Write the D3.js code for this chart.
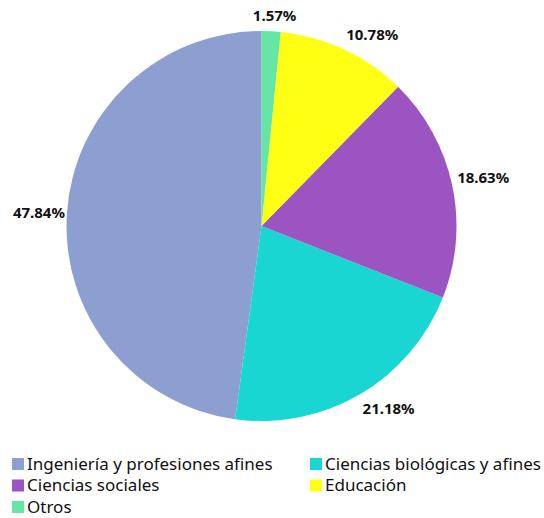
<!DOCTYPE html>
<html>
<head>
<meta charset="utf-8">
<script src="https://cdn.jsdelivr.net/npm/d3@7"></script>
<style>
  html, body { margin: 0; padding: 0; background: #fff; }
  svg { display: block; font-family: "Noto Sans", "Open Sans", sans-serif; }
</style>
</head>
<body>
<svg id="chart" width="544" height="518"></svg>
<script>
// Áreas de estudio (porcentaje)
const categories = [
  "Ingeniería y profesiones afines",
  "Ciencias biológicas y afines",
  "Ciencias sociales",
  "Educación",
  "Otros"
];
const values = [47.84, 21.18, 18.63, 10.78, 1.57];
const colors = ["#8c9fd0", "#19d6d3", "#9b54c0", "#ffff14", "#66e6a6"];

const data = categories.map((c, i) => ({ name: c, value: values[i], color: colors[i] }));

const svg = d3.select("#chart");
const cx = 261.5, cy = 226, radius = 195;

const g = svg.append("g").attr("transform", `translate(${cx},${cy})`);

// Slices run counter-clockwise from 12 o'clock
const pie = d3.pie().value(d => d.value).sort(null).startAngle(0).endAngle(-2 * Math.PI);
const arcs = pie(data);
const arc = d3.arc().innerRadius(0).outerRadius(radius);

g.selectAll("path.slice")
  .data(arcs)
  .join("path")
  .attr("class", "slice")
  .attr("d", arc)
  .attr("fill", d => d.data.color);

// Percentage labels outside the rim
const labelR = 200;
g.selectAll("text.pct")
  .data(arcs)
  .join("text")
  .attr("class", "pct")
  .each(function (d) {
    const a = (d.startAngle + d.endAngle) / 2;
    const s = Math.sin(a), c = Math.cos(a);
    let x = labelR * s + (s < 0 ? 3 : 0);
    let y = -(labelR + 5) * c;
    if (c > 0.15) y -= 6; else if (c < -0.15) y += 5;
    if (Math.abs(c) <= 0.15 && s > 0) y -= 2;
    let anchor = s >= 0 ? "start" : "end";
    if (Math.abs(s) < 0.1 && c > 0) { anchor = "middle"; x = (labelR + 5) * s + 3; }
    d3.select(this)
      .attr("x", x)
      .attr("y", y)
      .attr("text-anchor", anchor)
      .attr("dominant-baseline", "central");
  })
  .attr("font-size", 15)
  .attr("font-weight", 700)
  .attr("fill", "#111")
  .text(d => d.data.value.toFixed(2) + "%");

// Legend: two columns, row-major
const legend = svg.append("g");
const colX = [12, 310], rowY = 463, rowH = 21.5, sw = 12;
const items = legend.selectAll("g.item")
  .data(data)
  .join("g")
  .attr("class", "item")
  .attr("transform", (d, i) => `translate(${colX[i % 2]},${rowY + Math.floor(i / 2) * rowH})`);

items.append("rect")
  .attr("x", 0)
  .attr("y", -sw / 2 + 1)
  .attr("width", sw)
  .attr("height", sw)
  .attr("fill", d => d.color);

items.append("text")
  .attr("x", sw + 3)
  .attr("y", 0)
  .attr("dominant-baseline", "central")
  .attr("font-size", 17)
  .attr("fill", "#111")
  .text(d => d.name);
</script>
</body>
</html>
